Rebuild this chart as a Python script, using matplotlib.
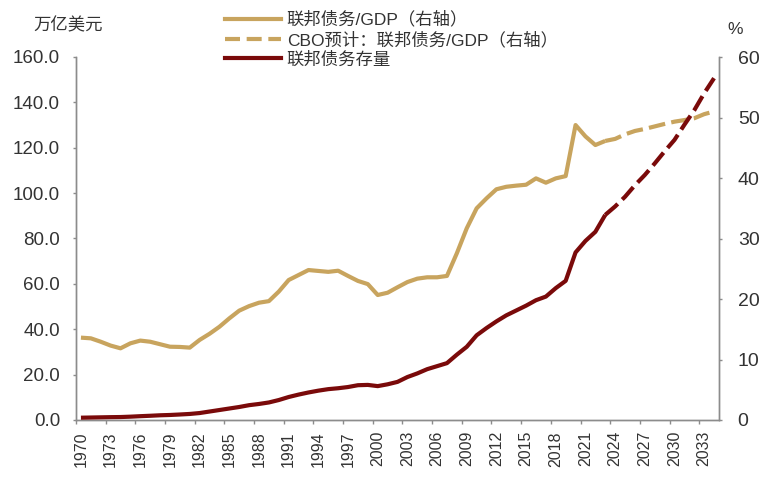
import matplotlib
matplotlib.use("Agg")
import matplotlib.pyplot as plt
from matplotlib.ticker import FixedLocator, FuncFormatter
from matplotlib.lines import Line2D

plt.rcParams['font.family'] = ['Liberation Sans', 'Noto Sans CJK SC', 'DejaVu Sans']

# ---------------- data ----------------
hist_years = list(range(1970, 2024))
proj_years = list(range(2023, 2035))

debt_gdp_hist = [36.3, 36.0, 34.5, 32.8, 31.6, 33.8, 35.0, 34.5, 33.4, 32.3,
                 32.2, 31.9, 35.3, 38.0, 41.1, 44.8, 48.2, 50.2, 51.7, 52.4,
                 56.6, 61.7, 63.9, 66.1, 65.7, 65.3, 65.8, 63.5, 61.3, 59.9,
                 55.1, 56.1, 58.5, 60.8, 62.3, 62.9, 62.9, 63.5, 73.5, 84.5,
                 93.3, 97.7, 101.7, 102.8, 103.3, 103.7, 106.5, 104.6, 106.5, 107.5,
                 130.0, 125.0, 121.2, 123.0]
debt_gdp_proj = [123.0, 123.9, 125.9, 127.4, 128.3, 129.4, 130.5, 131.5, 132.2, 133.0, 134.8, 136.0]

debt_stock_hist = [0.38, 0.41, 0.44, 0.47, 0.49, 0.55, 0.63, 0.70, 0.78, 0.83,
                   0.91, 1.00, 1.15, 1.40, 1.65, 1.90, 2.15, 2.45, 2.65, 2.90,
                   3.30, 3.80, 4.20, 4.55, 4.85, 5.10, 5.25, 5.45, 5.75, 5.80,
                   5.60, 5.90, 6.30, 7.10, 7.70, 8.40, 8.90, 9.40, 10.80, 12.10,
                   14.0, 15.2, 16.3, 17.3, 18.1, 18.9, 19.8, 20.4, 21.8, 23.0,
                   27.7, 29.6, 31.1, 33.9]
debt_stock_proj = [33.9, 35.3, 36.9, 38.8, 40.5, 42.4, 44.4, 46.3, 48.8, 51.2, 54.0, 56.5]

all_years = list(range(1970, 2035))
label_years = list(range(1970, 2035, 3))

left_ticks = [0, 20, 40, 60, 80, 100, 120, 140, 160]
right_ticks = [0, 10, 20, 30, 40, 50, 60]

legend_labels = ["联邦债务/GDP（右轴）", "CBO预计：联邦债务/GDP（右轴）", "联邦债务存量"]

GOLD = "#C8A45E"
RED = "#7A0A0A"
SPINE = "#8C8C8C"
TXT = "#333333"

# ---------------- figure ----------------
fig = plt.figure(figsize=(7.71, 4.78), dpi=100)
ax = fig.add_axes([76/771, 1-420/478, (719-76)/771, (420-57)/478])
ax2 = ax.twinx()

x0 = all_years[0]
xh = [y - x0 for y in hist_years]
xp = [y - x0 for y in proj_years]

lw = 3.0
dash = (4.0, 1.5)
ax.plot(xh, debt_gdp_hist, color=GOLD, lw=lw, solid_joinstyle='round', solid_capstyle='butt', zorder=3)
ax.plot(xp, debt_gdp_proj, color=GOLD, lw=lw, dashes=dash, dash_capstyle='butt', zorder=3)
ax2.plot(xh, debt_stock_hist, color=RED, lw=lw, solid_joinstyle='round', solid_capstyle='butt', zorder=3)
ax2.plot(xp, debt_stock_proj, color=RED, lw=lw, dashes=dash, dash_capstyle='butt', zorder=3)

n = len(all_years)
ax.set_xlim(-0.5, n - 0.5)
ax.set_ylim(0, 160)
ax2.set_ylim(0, 60)

# x ticks: labels at category centres, tick marks at category boundaries
ax.xaxis.set_major_locator(FixedLocator([y - x0 for y in label_years]))
ax.set_xticklabels([str(y) for y in label_years], rotation=90, fontsize=11.5, color=TXT)
ax.xaxis.set_minor_locator(FixedLocator([y - x0 - 0.5 for y in label_years]))
ax.tick_params(axis='x', which='major', length=0, pad=8)
ax.tick_params(axis='x', which='minor', length=3, width=1, color=SPINE)

ax.yaxis.set_major_locator(FixedLocator(left_ticks))
ax.yaxis.set_major_formatter(FuncFormatter(lambda v, p: f"{v:.1f}"))
ax.tick_params(axis='y', length=2.5, width=1, color=SPINE, labelsize=13.5, labelcolor=TXT, pad=9)

ax2.yaxis.set_major_locator(FixedLocator(right_ticks))
ax2.yaxis.set_major_formatter(FuncFormatter(lambda v, p: f"{int(v)}"))
ax2.tick_params(axis='y', length=2.5, width=1, color=SPINE, labelsize=14, labelcolor=TXT, pad=11)

for a in (ax, ax2):
    a.spines['top'].set_visible(False)
    for s in ('left', 'right', 'bottom'):
        a.spines[s].set_color(SPINE)
        a.spines[s].set_linewidth(1)
    a.set_facecolor('none')

fig.text(33/771, 1-25/478, "万亿美元", fontsize=12.5, color=TXT, va='center', ha='left')
fig.text(727/771, 1-29/478, "%", fontsize=12.5, color=TXT, va='center', ha='left')

handles = [Line2D([], [], color=GOLD, lw=lw),
           Line2D([], [], color=GOLD, lw=lw, dashes=(3.6, 1.6)),
           Line2D([], [], color=RED, lw=lw)]
fig.legend(handles, legend_labels, loc='upper left', bbox_to_anchor=(225/771, 1-11/478),
           frameon=False, fontsize=12.5, handlelength=3.2, handletextpad=0.35,
           labelspacing=0.2, borderpad=0, borderaxespad=0, labelcolor=TXT)

fig.savefig("out.png", dpi=100)
